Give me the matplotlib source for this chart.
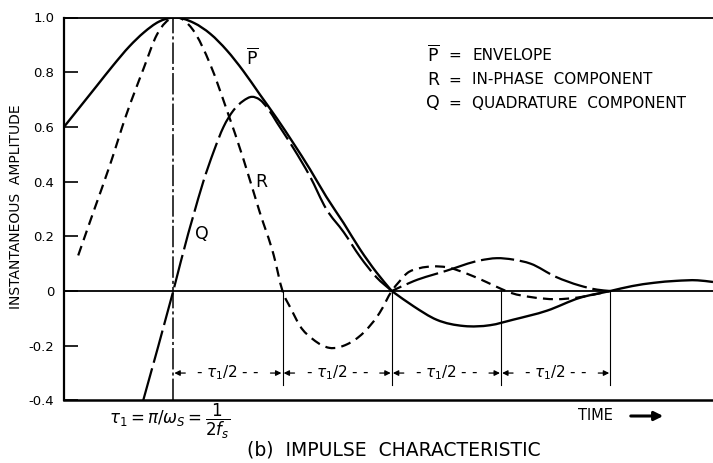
import matplotlib
matplotlib.use("Agg")
import matplotlib.pyplot as plt
from matplotlib.path import Path
from matplotlib.patches import PathPatch, FancyArrowPatch

# Time axis in units of tau_1/2, measured from the response peak
t_env = [-1.0, -0.85, -0.70, -0.55, -0.40, -0.27, -0.13, 0.0, 0.19, 0.34, 0.49, 0.64,
         0.79, 0.95, 1.10, 1.25, 1.40, 1.56, 1.71, 1.86, 2.0, 2.20, 2.41, 2.66, 2.90,
         3.11, 3.42, 3.72, 4.0, 4.2, 4.4, 4.6, 4.8, 4.94]
envelope = [0.60, 0.675, 0.75, 0.825, 0.895, 0.945, 0.985, 1.0, 0.98, 0.94, 0.88,
            0.805, 0.72, 0.63, 0.54, 0.446, 0.345, 0.248, 0.152, 0.068, 0.0, -0.056,
            -0.105, -0.128, -0.125, -0.105, -0.072, -0.025, 0.0, 0.018, 0.030, 0.037,
            0.039, 0.033]

t_inph = [-0.87, -0.73, -0.58, -0.43, -0.27, -0.15, 0.0, 0.18, 0.34, 0.49, 0.64, 0.79,
          0.92, 1.0, 1.08, 1.16, 1.28, 1.43, 1.59, 1.74, 1.89, 2.0, 2.07, 2.14, 2.25,
          2.38, 2.5, 2.69, 2.87, 3.0, 3.1, 3.27, 3.5, 3.7, 3.85, 4.0]
in_phase = [0.13, 0.29, 0.46, 0.644, 0.815, 0.937, 1.0, 0.955, 0.827, 0.662, 0.485, 0.29,
            0.13, 0.0, -0.067, -0.128, -0.177, -0.208, -0.195, -0.153, -0.079, 0.0, 0.035,
            0.065, 0.083, 0.09, 0.087, 0.063, 0.032, 0.008, -0.008, -0.022, -0.03, -0.024,
            -0.013, 0.0]

t_quad = [-0.275, 0.0, 0.137, 0.18, 0.275, 0.37, 0.46, 0.55, 0.64, 0.72, 0.79, 0.87,
          0.95, 1.04, 1.10, 1.25, 1.40, 1.56, 1.71, 1.86, 2.0, 2.2, 2.5, 2.81, 2.96,
          3.11, 3.27, 3.5, 3.72, 3.88, 4.0]
quadrature = [-0.40, 0.0, 0.21, 0.27, 0.40, 0.51, 0.60, 0.66, 0.695, 0.71, 0.70, 0.665,
              0.615, 0.56, 0.522, 0.42, 0.30, 0.215, 0.125, 0.05, 0.0, 0.036, 0.074,
              0.112, 0.12, 0.115, 0.10, 0.052, 0.02, 0.005, 0.0]

# points where a curve has a corner rather than a smooth turn
env_corners = [2.0]
quad_corners = [2.0]

y_ticks = [-0.4, -0.2, 0.0, 0.2, 0.4, 0.6, 0.8, 1.0]
y_ticklabels = ["-0.4", "-0.2", "0", "0.2", "0.4", "0.6", "0.8", "1.0"]
interval_marks = [1, 2, 3, 4]
interval_starts = [0, 1, 2, 3]

W, H = 713, 463
fig = plt.figure(figsize=(W / 100, H / 100), dpi=100)
fig.patch.set_facecolor("white")


def fp(x, y):
    """Pixel position -> figure fraction."""
    return x / W, 1 - y / H


def _hermite_segment(xs, ys):
    """Cubic Bezier path pieces passing through every (x, y) point."""
    n = len(xs)
    slopes = []
    for i in range(n):
        if i == 0:
            s = (ys[1] - ys[0]) / (xs[1] - xs[0])
        elif i == n - 1:
            s = (ys[-1] - ys[-2]) / (xs[-1] - xs[-2])
        else:
            h0 = xs[i] - xs[i - 1]
            h1 = xs[i + 1] - xs[i]
            d0 = (ys[i] - ys[i - 1]) / h0
            d1 = (ys[i + 1] - ys[i]) / h1
            s = (d0 * h1 + d1 * h0) / (h0 + h1)
        slopes.append(s)
    verts, codes = [(xs[0], ys[0])], [Path.MOVETO]
    for i in range(n - 1):
        h = xs[i + 1] - xs[i]
        verts += [(xs[i] + h / 3, ys[i] + slopes[i] * h / 3),
                  (xs[i + 1] - h / 3, ys[i + 1] - slopes[i + 1] * h / 3),
                  (xs[i + 1], ys[i + 1])]
        codes += [Path.CURVE4] * 3
    return verts, codes


def smooth_curve(xs, ys, corners=()):
    verts, codes = [], []
    start = 0
    cut = [i for i, x in enumerate(xs) if x in corners] + [len(xs) - 1]
    for end in cut:
        v, c = _hermite_segment(xs[start:end + 1], ys[start:end + 1])
        if verts:
            c = [Path.LINETO] + c[1:]
        verts += v
        codes += c
        start = end
    return Path(verts, codes)


ax = fig.add_axes([64 / W, 1 - 400.4 / H, (W - 64) / W, (400.4 - 17.5) / H])
ax.set_xlim(-1.0, 4.94)
ax.set_ylim(-0.4, 1.0)
ax.set_facecolor("white")

ax.spines["right"].set_visible(False)
ax.spines["left"].set_linewidth(1.6)
ax.spines["top"].set_linewidth(1.3)
ax.spines["bottom"].set_linewidth(1.8)

ax.set_xticks([])
ax.set_yticks(y_ticks)
ax.set_yticklabels(y_ticklabels, fontsize=9.5)
ax.tick_params(axis="y", direction="in", length=10, width=1.2, pad=7)

ax.set_ylabel("INSTANTANEOUS  AMPLITUDE", fontsize=10)
ax.yaxis.set_label_coords(-41 / (W - 64), 0.505)

# zero line
ax.axhline(0, color="black", lw=1.3, zorder=2)

# peak marker line
ax.plot([0, 0], [-0.4, 1.0], color="black", lw=1.1, dashes=(14, 2, 2, 2), zorder=2)

# interval boundaries
for m in interval_marks:
    ax.plot([m, m], [0, -0.345], color="black", lw=0.8, zorder=2)

# curves
ax.add_patch(PathPatch(smooth_curve(t_env, envelope, env_corners), fill=False,
                       edgecolor="black", lw=1.7, zorder=3))
ax.add_patch(PathPatch(smooth_curve(t_inph, in_phase), fill=False,
                       edgecolor="black", lw=1.6, linestyle=(0, (4.5, 2.8)), zorder=3))
ax.add_patch(PathPatch(smooth_curve(t_quad, quadrature, quad_corners), fill=False,
                       edgecolor="black", lw=1.6, linestyle=(0, (15, 2.6)), zorder=3))

# curve labels
PBAR = r"$\overline{\mathrm{P}}$"
ax.text(0.72, 0.853, PBAR, fontsize=12.5, ha="center", va="center")
ax.text(0.81, 0.40, "R", fontsize=12.5, ha="center", va="center")
ax.text(0.26, 0.209, "Q", fontsize=12.5, ha="center", va="center")

# interval arrows
for a in interval_starts:
    for tip, tail in ((a + 0.01, a + 0.11), (a + 0.99, a + 0.89)):
        ax.annotate("", xy=(tip, -0.30), xytext=(tail, -0.30),
                    arrowprops=dict(arrowstyle="-|>", color="black", lw=0.9,
                                    mutation_scale=8, shrinkA=0, shrinkB=0))
    ax.text(a + 0.5, -0.30, r"- $\tau_1/2$ - -", fontsize=11,
            ha="center", va="center")

# key
key_rows = [(PBAR, "ENVELOPE", 55), ("R", "IN-PHASE  COMPONENT", 80),
            ("Q", "QUADRATURE  COMPONENT", 103)]
for sym, desc, ypix in key_rows:
    fig.text(*fp(433, ypix), sym, fontsize=12.5, ha="center", va="center")
    fig.text(*fp(455, ypix), "=", fontsize=11, ha="center", va="center")
    fig.text(*fp(472, ypix), desc, fontsize=11, ha="left", va="center")

# footnotes
fig.text(*fp(170, 421), r"$\tau_1 = \pi/\omega_S = \dfrac{1}{2f_s}$",
         fontsize=12, ha="center", va="center")
fig.text(*fp(578, 416), "TIME", fontsize=10.5, ha="left", va="center")
fig.add_artist(FancyArrowPatch(fp(628, 416), fp(666, 416), transform=fig.transFigure,
                               arrowstyle="-|>", mutation_scale=13, lw=2.2,
                               color="black"))
fig.text(*fp(394, 450), "(b)  IMPULSE  CHARACTERISTIC", fontsize=13.5,
         ha="center", va="center")

fig.savefig("out.png", dpi=100, facecolor="white")
